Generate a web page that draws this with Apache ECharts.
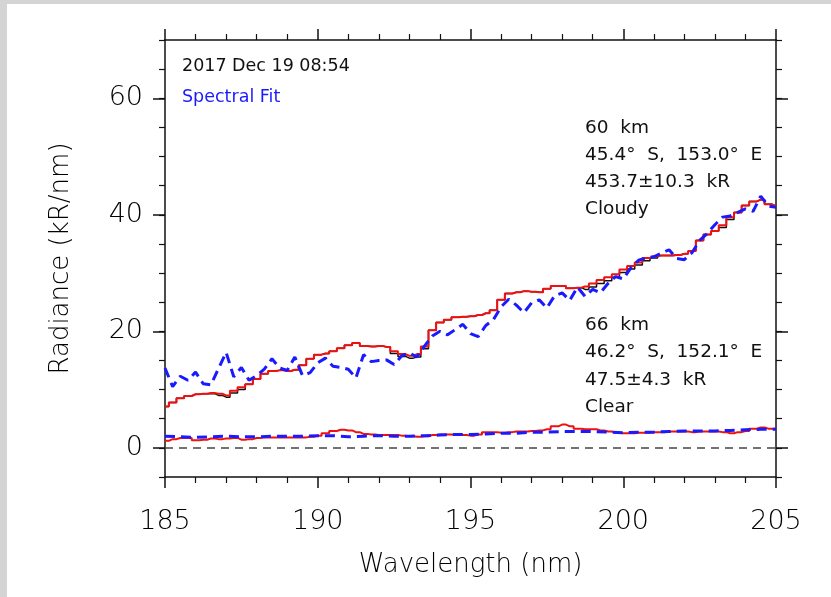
<!DOCTYPE html>
<html>
<head>
<meta charset="utf-8">
<script src="https://cdn.jsdelivr.net/npm/echarts@6/dist/echarts.min.js"></script>
<style>
html,body{margin:0;padding:0;background:#d4d4d4;}
#wrap{position:absolute;left:7px;top:4px;width:824px;height:593px;background:#fff;}
#chart{position:absolute;left:-7px;top:-4px;width:831px;height:597px;}
</style>
</head>
<body>
<div id="wrap"><div id="chart"></div></div>
<script>
// Wavelength grid (nm) for the stepped spectra
const wavelength = [185.00,185.25,185.50,185.75,186.00,186.25,186.50,186.75,187.00,187.25,187.50,187.75,188.00,188.25,188.50,188.75,189.00,189.25,189.50,189.75,190.00,190.25,190.50,190.75,191.00,191.25,191.50,191.75,192.00,192.25,192.50,192.75,193.00,193.25,193.50,193.75,194.00,194.25,194.50,194.75,195.00,195.25,195.50,195.75,196.00,196.25,196.50,196.75,197.00,197.25,197.50,197.75,198.00,198.25,198.50,198.75,199.00,199.25,199.50,199.75,200.00,200.25,200.50,200.75,201.00,201.25,201.50,201.75,202.00,202.25,202.50,202.75,203.00,203.25,203.50,203.75,204.00,204.25,204.50,204.75,205.00];

// Cloudy (60 km) observed spectrum, black
const cloudyObs = [7.1,7.8,8.5,8.9,9.2,9.3,9.3,9.0,8.7,9.4,10.0,10.9,11.8,12.7,13.2,13.3,13.2,13.4,14.2,15.3,16.0,16.2,16.6,17.1,17.6,18.0,17.5,17.4,17.5,17.3,16.2,15.7,15.4,15.6,17.0,20.2,21.5,22.0,22.4,22.5,22.6,22.8,23.1,23.6,25.4,26.5,26.7,26.9,26.8,26.7,27.3,27.8,27.8,27.4,27.5,27.2,27.6,28.2,28.7,29.3,30.1,30.7,31.4,32.1,32.6,33.0,33.0,33.1,33.3,33.8,35.6,36.6,37.2,37.8,39.2,40.4,41.6,42.3,42.6,41.8,41.5];
// Cloudy (60 km) spectrum, red
const cloudyRed = [7.1,7.8,8.5,8.9,9.2,9.3,9.4,9.3,9.0,9.8,10.4,10.9,11.8,12.7,13.2,13.3,13.2,13.4,14.2,15.3,16.0,16.2,16.6,17.1,17.6,18.0,17.5,17.4,17.5,17.3,16.6,16.1,15.8,16.1,17.4,20.2,21.5,22.0,22.4,22.5,22.6,22.8,23.1,23.6,25.4,26.5,26.7,26.9,26.8,26.7,27.3,27.8,27.8,27.4,27.5,27.7,28.2,28.8,29.3,29.8,30.6,31.2,31.8,32.6,32.9,33.0,33.0,33.1,33.3,33.8,35.6,36.6,37.2,38.2,39.6,40.4,41.6,42.3,42.6,41.8,41.5];
// Cloudy spectral fit, blue dashed
const cloudyFit = [13.7,10.5,12.3,11.6,13.0,11.0,10.8,13.6,16.4,12.2,13.8,11.6,12.4,13.5,15.3,13.7,13.3,15.6,12.4,12.9,14.6,15.4,14.0,13.8,13.5,12.0,16.0,14.8,15.0,15.1,14.3,15.8,16.3,15.6,17.5,19.2,20.0,19.4,20.3,21.2,19.6,19.1,21.0,22.0,24.2,25.5,24.5,23.2,24.9,25.4,24.0,26.1,26.6,25.3,27.6,26.0,27.2,26.6,28.2,29.4,29.0,30.9,32.2,32.6,32.8,33.4,34.0,32.5,32.3,33.5,35.6,36.8,38.3,39.6,39.8,40.4,41.0,40.6,43.2,41.5,41.3];
// Clear (66 km) spectrum, red
const clearRed = [1.2,1.5,1.7,1.7,1.3,1.4,1.6,1.5,1.6,1.7,1.4,1.5,1.7,1.8,1.8,1.8,1.8,1.8,1.8,1.9,2.1,2.5,2.9,3.1,3.0,2.7,2.4,2.3,2.2,2.2,2.2,2.1,2.0,1.9,2.0,2.2,2.3,2.3,2.2,2.2,2.1,2.3,2.7,2.7,2.6,2.7,2.8,2.8,2.9,3.0,3.2,3.7,4.0,3.7,3.3,3.2,3.2,3.0,2.8,2.6,2.5,2.5,2.6,2.6,2.7,2.7,2.8,2.8,2.8,2.7,2.8,2.8,2.8,2.7,2.5,2.7,2.9,3.3,3.5,3.3,3.3];
// Clear spectral fit, blue dashed
const wavelengthFit = [185,185.5,186,186.5,187,187.5,188,188.5,189,189.5,190,190.5,191,191.5,192,192.5,193,193.5,194,194.5,195,195.5,196,196.5,197,197.5,198,198.5,199,199.5,200,200.5,201,201.5,202,202.5,203,203.5,204,204.5,205];
const clearFit = [2.0,1.9,1.8,1.9,2.0,1.9,1.9,2.0,2.0,2.0,2.1,2.1,1.9,2.0,2.1,2.0,2.0,2.1,2.2,2.3,2.3,2.4,2.5,2.5,2.7,2.7,2.8,2.8,2.8,2.7,2.6,2.7,2.7,2.8,2.9,2.9,2.9,3.0,3.1,3.2,3.2];

const yMajorTicks = [0, 20, 40, 60];

const FONT = 'DejaVu Sans';
const AX = '#111';
const pair = (xs, ys) => xs.map((x, i) => [x, ys[i]]);

const chart = echarts.init(document.getElementById('chart'), null, {renderer: 'canvas'});

function xAx(pos, showLabel) {
  return {
    type: 'value', position: pos, min: 185, max: 205, interval: 5,
    name: showLabel ? 'Wavelength (nm)' : '',
    nameLocation: 'middle', nameGap: 75,
    nameTextStyle: {fontFamily: FONT, fontSize: 26, color: '#000', fontWeight: 200},
    axisLine: {show: true, onZero: false, lineStyle: {color: AX, width: 1.5}},
    axisTick: {show: true, inside: false, length: 11, lineStyle: {color: AX, width: 1.5}},
    minorTick: {show: true, splitNumber: 5, length: 6, lineStyle: {color: AX, width: 1.2}},
    axisLabel: {show: showLabel, fontFamily: FONT, fontSize: 27, color: '#000', margin: 31, fontWeight: 200},
    splitLine: {show: false}, minorSplitLine: {show: false}
  };
}
function yAx(pos, showLabel) {
  return {
    type: 'value', position: pos, min: -5, max: 70, interval: 5,
    name: showLabel ? 'Radiance (kR/nm)' : '',
    nameLocation: 'middle', nameGap: 91, nameRotate: 90,
    nameTextStyle: {fontFamily: FONT, fontSize: 26, color: '#000', fontWeight: 200},
    axisLine: {show: true, onZero: false, lineStyle: {color: AX, width: 1.5}},
    axisTick: {show: true, inside: false, length: 6, lineStyle: {color: AX, width: 1.2}},
    axisLabel: {show: showLabel, fontFamily: FONT, fontSize: 27, color: '#000', margin: 22, fontWeight: 200,
      formatter: v => (yMajorTicks.indexOf(v) >= 0 ? String(v) : '')},
    splitLine: {show: false}
  };
}
function yMajor(pos) {
  return {
    type: 'value', position: pos, min: -5, max: 70,
    axisLine: {show: false},
    axisTick: {show: true, inside: false, length: 12, customValues: yMajorTicks, lineStyle: {color: AX, width: 1.5}},
    axisLabel: {show: false},
    splitLine: {show: false}
  };
}

const TXT = {fontFamily: FONT, fontSize: 18, fill: '#111', fontWeight: 'normal'};

const option = {
  backgroundColor: 'transparent',
  animation: false,
  grid: {left: 165, right: 55, top: 40, bottom: 120, containLabel: false},
  xAxis: [xAx('bottom', true), xAx('top', false)],
  yAxis: [yAx('left', true), yAx('right', false), yMajor('left'), yMajor('right')],
  series: [
    {type: 'line', name: 'zero', data: [], xAxisIndex: 0, yAxisIndex: 0, silent: true,
      markLine: {symbol: 'none', silent: true, label: {show: false},
        lineStyle: {color: '#444', width: 1.5, type: [8, 6]}, data: [{yAxis: 0}]}},
    {type: 'line', name: 'cloudy obs', data: pair(wavelength, cloudyObs), step: 'middle', showSymbol: false,
      lineStyle: {color: '#111', width: 1.5}},
    {type: 'line', name: 'cloudy', data: pair(wavelength, cloudyRed), step: 'middle', showSymbol: false,
      lineStyle: {color: '#ee1111', width: 2}},
    {type: 'line', name: 'clear', data: pair(wavelength, clearRed), step: 'middle', showSymbol: false,
      lineStyle: {color: '#ee1111', width: 2}},
    {type: 'line', name: 'cloudy fit', data: pair(wavelength, cloudyFit), showSymbol: false,
      lineStyle: {color: '#1a1aff', width: 3, type: [10, 6]}},
    {type: 'line', name: 'clear fit', data: pair(wavelengthFit, clearFit), showSymbol: false,
      lineStyle: {color: '#1a1aff', width: 3, type: [10, 6]}}
  ],
  graphic: [
    {type: 'text', left: 182, top: 57, style: Object.assign({}, TXT, {text: '2017 Dec 19 08:54', fontSize: 17.5})},
    {type: 'text', left: 182, top: 88, style: Object.assign({}, TXT, {text: 'Spectral Fit', fontSize: 17.5, fill: '#1a1aff'})},
    {type: 'text', left: 585, top: 115, style: Object.assign({}, TXT, {text: '60  km\n45.4°  S,  153.0°  E\n453.7±10.3  kR\nCloudy', lineHeight: 27, fontSize: 18.5})},
    {type: 'text', left: 585, top: 311, style: Object.assign({}, TXT, {text: '66  km\n46.2°  S,  152.1°  E\n47.5±4.3  kR\nClear', lineHeight: 27.5, fontSize: 18.5})}
  ]
};
chart.setOption(option);
</script>
</body>
</html>
